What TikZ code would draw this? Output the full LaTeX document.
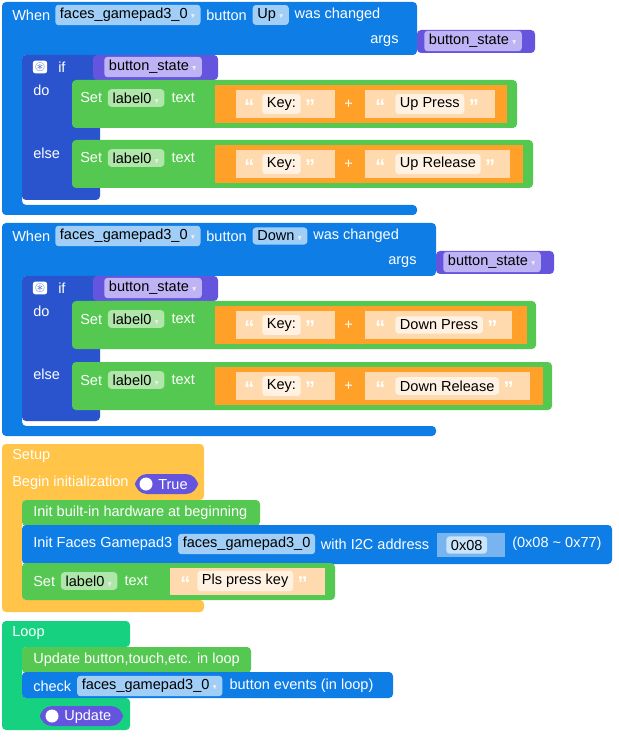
\documentclass[tikz,border=0pt]{standalone}
\usepackage{amssymb}
\usepackage{fontspec}
\setmainfont{Liberation Sans}
\definecolor{evblue}{RGB}{14,126,230}
\definecolor{ifblue}{RGB}{42,84,205}
\definecolor{setgreen}{RGB}{84,200,80}
\definecolor{joinorange}{RGB}{255,160,40}
\definecolor{peach}{RGB}{255,218,175}
\definecolor{argpurple}{RGB}{100,84,222}
\definecolor{setupyellow}{RGB}{255,196,72}
\definecolor{loopteal}{RGB}{22,210,128}
\tikzset{%
	lbl/.style   = {text=white, anchor=west, inner sep=0pt, font=\fontsize{10.9}{12}\selectfont},
	fld/.style   = {anchor=west, rounded corners=2.5pt, inner xsep=3.5pt, inner ysep=2.6pt, text=black, font=\fontsize{10.9}{12}\selectfont},
	bluefld/.style  = {fld, fill={rgb,255:red,160;green,206;blue,246}},
	greenfld/.style = {fld, fill={rgb,255:red,176;green,230;blue,170}},
	lilacfld/.style = {fld, fill={rgb,255:red,190;green,180;blue,245}},
	whitefld/.style = {fld, fill={rgb,255:red,255;green,242;blue,226}},
	quo/.style   = {lbl, font=\fontsize{15}{15}\bfseries, yshift=-2pt},
	blk/.style   = {rounded corners=3pt},
	pill/.style  = {fill=argpurple, rounded corners=9pt},
}
\newcommand{\dd}{\,{\color{white!85!gray}\tiny$\blacktriangledown$}}
\begin{document}
\begin{tikzpicture}[x=0.75pt,y=-0.75pt]
	\useasboundingbox (0,0) rectangle (618,737);
	% event blocks
	\foreach \oy/\w/\key/\ax in {0/417/Up/370,221/436/Down/388}{
		\fill[evblue,blk] (2,2+\oy) -- (\w,2+\oy) -- (\w,55+\oy) -- (22,55+\oy) -- (22,205+\oy) -- (\w,205+\oy) -- (\w,215+\oy) -- (2,215+\oy) -- cycle;
		\node[lbl] (when\key) at (12,15+\oy) {When};
		\node[bluefld] (pad\key) at (55,15+\oy) {faces\_gamepad3\_0\dd};
		\node[lbl] (btn\key) at ([xshift=4pt]pad\key.east) {button};
		\node[bluefld] (key\key) at ([xshift=4pt]btn\key.east) {\key\dd};
		\node[lbl] at ([xshift=4pt]key\key.east) {was changed};
		\node[lbl] (args\key) at (\ax,41+\oy) {args};
		\fill[argpurple,blk] (\w,30+\oy) rectangle ++(118,23);
		\node[lilacfld] at (\w+7,41+\oy) {button\_state\dd};
		% if block
		\fill[ifblue,blk] (22,55+\oy) rectangle (100,200+\oy);
		\fill[argpurple,blk] (93,55+\oy) rectangle (218,80+\oy);
		\node[lilacfld] at (104,67+\oy) {button\_state\dd};
		\node[fill=white,text=ifblue,rounded corners=2pt,inner sep=1.5pt,font=\normalsize] at (40,67+\oy) {$\circledast$};
		\node[lbl] at (58,67+\oy) {if};
		\node[lbl] at (33,90+\oy) {do};
		\node[lbl] at (33,153+\oy) {else};
	}
	% set label blocks
	\foreach \t/\g/\o/\p/\txt in {80/517/507/495/Up Press,140/533/523/510/Up Release,
		301/536/527/512/Down Press,362/552/543/530/Down Release}{
		\fill[setgreen,blk] (72,\t) rectangle (\g,\t+48);
		\node[lbl] (set) at (80,\t+18) {Set};
		\node[greenfld] (lab) at ([xshift=4pt]set.east) {label0\dd};
		\node[lbl] at ([xshift=5pt]lab.east) {text};
		\fill[joinorange] (215,\t+5) rectangle (\o,\t+43);
		\fill[peach] (236,\t+10) rectangle (335,\t+38);
		\fill[peach] (365,\t+10) rectangle (\p,\t+38);
		\node[quo] at (244,\t+24) {“};
		\node[whitefld] (k) at (262,\t+24) {Key:};
		\node[quo] at ([xshift=3pt]k.east) {”};
		\node[lbl] at (344,\t+24) {+};
		\node[quo] at (375,\t+24) {“};
		\node[whitefld] (v) at (395,\t+24) {\txt};
		\node[quo] at ([xshift=3pt]v.east) {”};
	}
	% setup
	\fill[setupyellow,blk] (2,444) -- (204,444) -- (204,500) -- (22,500) -- (22,600) -- (204,600) -- (204,612) -- (2,612) -- cycle;
	\node[lbl] (setup) at (12,456) {Setup};
	\node[lbl] (begin) at (12,483) {Begin initialization};
	\fill[pill] (135,474) rectangle (198,494);
	\fill[white] (146,484) circle (6.5);
	\node[lbl] (true) at (158,485) {True};
	\fill[setgreen,blk] (22,500) rectangle (260,526);
	\node[lbl] (hw) at (33,513) {Init built-in hardware at beginning};
	\fill[evblue,blk] (22,525) rectangle (612,564);
	\node[lbl] (init) at (33,544) {Init Faces Gamepad3};
	\node[bluefld] (padinit) at ([xshift=4pt]init.east) {faces\_gamepad3\_0};
	\node[lbl] (i2c) at ([xshift=4pt]padinit.east) {with I2C address};
	\fill[fill={rgb,255:red,120;green,180;blue,240}] (437,533) rectangle (505,557);
	\node[whitefld,fill={rgb,255:red,200;green,228;blue,250}] (addr) at (446,545) {0x08};
	\node[lbl] at (512,544) {(0x08 \textasciitilde{} 0x77)};
	\fill[setgreen,blk] (22,563) rectangle (335,600);
	\node[lbl] (set) at (33,581) {Set};
	\node[greenfld] (lab) at ([xshift=4pt]set.east) {label0\dd};
	\node[lbl] (txt) at ([xshift=5pt]lab.east) {text};
	\fill[peach] (170,568) rectangle (325,595);
	\node[quo] at (180,581) {“};
	\node[whitefld] (pls) at (197,581) {Pls press key};
	\node[quo] at ([xshift=3pt]pls.east) {”};
	% loop
	\fill[loopteal,blk] (2,621) -- (130,621) -- (130,647) -- (22,647) -- (22,698) -- (130,698) -- (130,730) -- (2,730) -- cycle;
	\node[lbl] (loop) at (12,633) {Loop};
	\fill[setgreen,blk] (22,647) rectangle (251,673);
	\node[lbl] (upd) at (33,660) {Update button,touch,etc. in loop};
	\fill[evblue,blk] (22,672) rectangle (393,698);
	\node[lbl] (check) at (33,686) {check};
	\node[bluefld] (padchk) at ([xshift=4pt]check.east) {faces\_gamepad3\_0\dd};
	\node[lbl] at ([xshift=5pt]padchk.east) {button events (in loop)};
	\fill[pill] (40,706) rectangle (123,726);
	\fill[white] (52,716) circle (6.5);
	\node[lbl] (update) at (64,717) {Update};
\end{tikzpicture}
\end{document}
